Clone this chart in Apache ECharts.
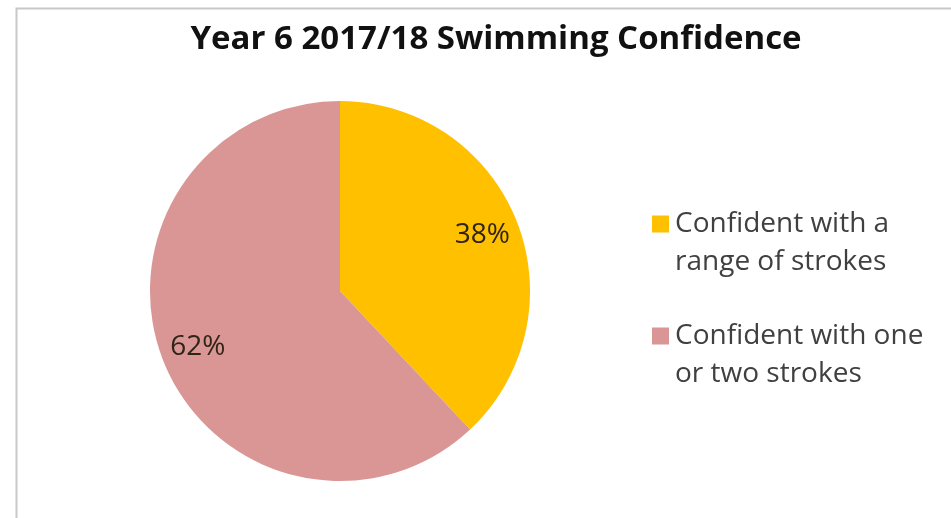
<!DOCTYPE html>
<html><head><meta charset="utf-8">
<script src="https://cdn.jsdelivr.net/npm/echarts@6/dist/echarts.min.js"></script>
<style>html,body{margin:0;padding:0;background:#fff}#c{width:951px;height:518px}</style>
</head><body><div id="c"></div>
<script>
const title = 'Year 6 2017/18 Swimming Confidence';
const categories = ['Confident with a range of strokes', 'Confident with one or two strokes'];
const legendLines = [['Confident with a', 'range of strokes'], ['Confident with one', 'or two strokes']];
const values = [38, 62];
const colors = ['#FFC000', '#D99694'];

const FONT = 'Open Sans';
const LH = 38;         // legend line height
const SQ = 17;         // legend square size
const IW = 18, IH = LH + SQ;
const iconPath = 'path://M0,0h' + SQ + 'v' + SQ + 'h-' + SQ + 'zM' + IW + ',' + IH + 'L' + IW + ',' + IH;
const data = categories.map((c, i) => ({ name: c, value: values[i], itemStyle: { color: colors[i] } }));
const chart = echarts.init(document.getElementById('c'));
const legendTops = [200, 312];
chart.setOption({
  backgroundColor: '#fff',
  title: { text: title, left: 491, top: 18, textAlign: 'center',
    textStyle: { fontFamily: FONT, fontWeight: 'bold', fontSize: 33, color: '#111' } },
  legend: categories.map((c, i) => ({
    data: [c], orient: 'vertical', left: 647, top: legendTops[i],
    icon: iconPath, itemWidth: IW, itemHeight: IH, itemGap: 0,
    itemStyle: { borderWidth: 0 },
    formatter: () => legendLines[i].join('\n'),
    selectedMode: false,
    textStyle: { fontFamily: FONT, fontSize: 28, lineHeight: LH, color: '#404040' }
  })),
  graphic: [{ type: 'rect', left: 14, top: 6, shape: { width: 960, height: 540 },
    style: { fill: 'none', stroke: '#c8c8c8', lineWidth: 2 }, silent: true }],
  series: [
    { type: 'pie', center: [340, 291], radius: [0, 190], startAngle: 90, clockwise: true,
      label: { show: false }, labelLine: { show: false }, silent: true, data: data },
    { type: 'pie', center: [340, 291], radius: [110, 190], startAngle: 90, clockwise: true, silent: true,
      itemStyle: { color: 'rgba(0,0,0,0)' },
      label: { show: true, position: 'inside', formatter: '{c}%', fontFamily: FONT, fontSize: 28, color: '#302418' },
      labelLine: { show: false },
      data: categories.map((c, i) => ({ name: c, value: values[i], itemStyle: { color: 'rgba(0,0,0,0)' } })) }
  ]
});
</script></body></html>
